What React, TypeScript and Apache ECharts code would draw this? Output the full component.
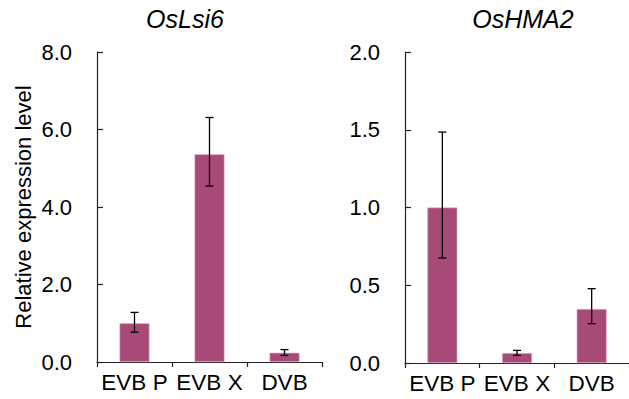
import React, { useEffect, useRef } from "react";
import * as echarts from "echarts";

const categories = ["EVB P", "EVB X", "DVB"];
const titles = ["OsLsi6", "OsHMA2"];
const lsi6Values = [1.0, 5.36, 0.24];
const lsi6Lower = [0.77, 4.54, 0.17];
const lsi6Upper = [1.28, 6.31, 0.32];
const hma2Values = [1.0, 0.064, 0.347];
const hma2Lower = [0.675, 0.049, 0.253];
const hma2Upper = [1.485, 0.081, 0.478];
const yMax = [8, 2];
const yInterval = [2, 0.5];

const BAR = "#A84A78";
const FONT = "'Liberation Sans', Arial, sans-serif";

function errorSeries(idx: number, lower: number[], upper: number[]) {
  return {
    type: "custom",
    xAxisIndex: idx,
    yAxisIndex: idx,
    z: 10,
    data: categories.map((c, i) => [i, lower[i], upper[i]]),
    renderItem: (params: any, api: any) => {
      const x = api.value(0);
      const lo = api.coord([x, api.value(1)]);
      const hi = api.coord([x, api.value(2)]);
      const hw = 4;
      const style = { stroke: "#000", lineWidth: 1.3 };
      return {
        type: "group",
        children: [
          { type: "line", shape: { x1: lo[0], y1: lo[1], x2: hi[0], y2: hi[1] }, style },
          { type: "line", shape: { x1: lo[0] - hw, y1: lo[1], x2: lo[0] + hw, y2: lo[1] }, style },
          { type: "line", shape: { x1: hi[0] - hw, y1: hi[1], x2: hi[0] + hw, y2: hi[1] }, style },
        ],
      };
    },
  };
}

export default function App() {
  const ref = useRef<HTMLDivElement>(null);
  useEffect(() => {
    if (!ref.current) return;
    const chart = echarts.init(ref.current, undefined, { renderer: "svg" });
    const axisLine = { show: true, lineStyle: { color: "#222", width: 1.2 } };
    const yAxisBase = (i: number) => ({
      type: "value",
      gridIndex: i,
      min: 0,
      max: yMax[i],
      interval: yInterval[i],
      axisLine,
      axisTick: { show: true, inside: true, length: 6, lineStyle: { color: "#222", width: 1.2 } },
      splitLine: { show: false },
      axisLabel: {
        color: "#000",
        fontSize: 22,
        fontFamily: FONT,
        margin: 25,
        formatter: (v: number) => v.toFixed(1),
      },
    });
    const xAxisBase = (i: number) => ({
      type: "category",
      gridIndex: i,
      data: categories,
      axisLine,
      axisTick: { show: true, length: 5, lineStyle: { color: "#222", width: 1.2 } },
      axisLabel: { color: "#000", fontSize: 22.5, fontFamily: FONT, margin: 9, interval: 0 },
    });
    const titleStyle = (t: string) => ({
      text: t,
      textAlign: "center",
      textVerticalAlign: "middle",
      fontSize: 25,
      fontStyle: "italic",
      fontFamily: FONT,
      fill: "#000",
    });
    chart.setOption({
      animation: false,
      backgroundColor: "#fff",
      grid: [
        { left: 97, top: 52, width: 225, height: 310 },
        { left: 405, top: 52, width: 231, height: 311 },
      ],
      xAxis: [xAxisBase(0), xAxisBase(1)],
      yAxis: [
        {
          ...yAxisBase(0),
          name: "Relative expression level",
          nameLocation: "middle",
          nameGap: 63,
          nameTextStyle: { color: "#000", fontSize: 22, fontFamily: FONT },
        },
        yAxisBase(1),
      ],
      graphic: [
        { type: "text", x: 185, y: 19, style: titleStyle(titles[0]) },
        { type: "text", x: 523, y: 19, style: titleStyle(titles[1]) },
      ],
      series: [
        {
          type: "bar",
          xAxisIndex: 0,
          yAxisIndex: 0,
          data: lsi6Values,
          barWidth: 30,
          itemStyle: { color: BAR, borderColor: "#E6B8CC", borderWidth: 0.6 },
        },
        errorSeries(0, lsi6Lower, lsi6Upper),
        {
          type: "bar",
          xAxisIndex: 1,
          yAxisIndex: 1,
          data: hma2Values,
          barWidth: 30,
          itemStyle: { color: BAR, borderColor: "#E6B8CC", borderWidth: 0.6 },
        },
        errorSeries(1, hma2Lower, hma2Upper),
      ],
    });
    return () => chart.dispose();
  }, []);
  return (
    <div
      ref={ref}
      style={{ position: "fixed", left: 0, top: 0, width: 629, height: 399, background: "#fff" }}
    />
  );
}
